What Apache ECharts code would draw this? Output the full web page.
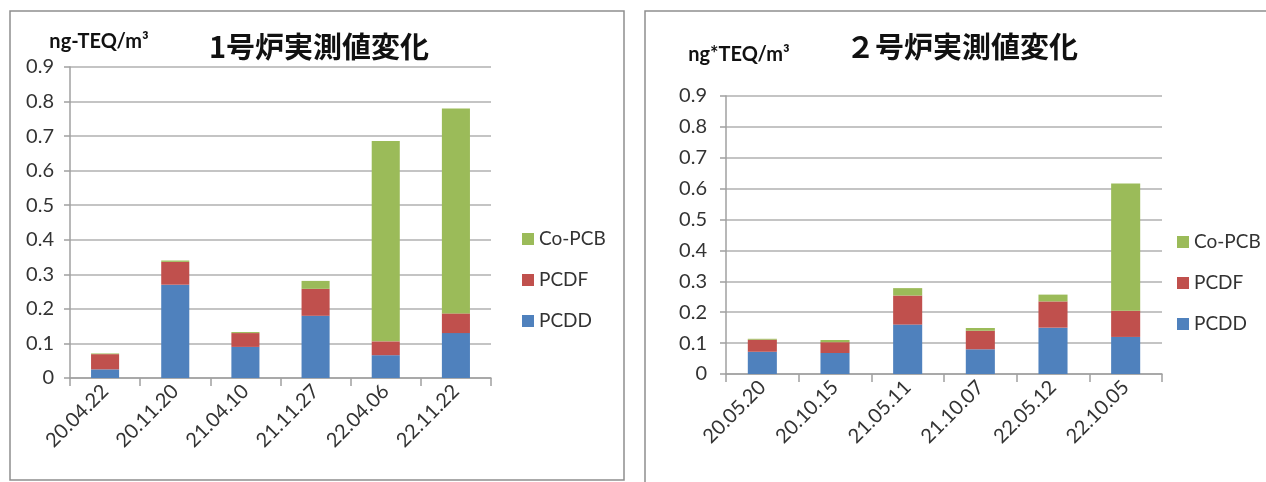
<!DOCTYPE html>
<html>
<head>
<meta charset="utf-8">
<script src="https://cdn.jsdelivr.net/npm/echarts@6/dist/echarts.min.js"></script>
<style>
  html, body { margin: 0; padding: 0; background: #fff; }
  #chart { width: 1266px; height: 482px; }
</style>
</head>
<body>
<div id="chart"></div>
<script>
// Furnace No.1 measurements (ng-TEQ/m3)
const dates1 = ['20.04.22', '20.11.20', '21.04.10', '21.11.27', '22.04.06', '22.11.22'];
const pcdd1  = [0.025, 0.27, 0.09, 0.18, 0.066, 0.13];
const pcdf1  = [0.044, 0.066, 0.04, 0.078, 0.04, 0.057];
const copcb1 = [0.002, 0.004, 0.003, 0.023, 0.58, 0.593];

// Furnace No.2 measurements (ng-TEQ/m3)
const dates2 = ['20.05.20', '20.10.15', '21.05.11', '21.10.07', '22.05.12', '22.10.05'];
const pcdd2  = [0.072, 0.068, 0.16, 0.08, 0.15, 0.12];
const pcdf2  = [0.039, 0.035, 0.094, 0.06, 0.085, 0.085];
const copcb2 = [0.003, 0.007, 0.024, 0.009, 0.022, 0.412];

const legendNames = ['Co-PCB', 'PCDF', 'PCDD'];
const titles = ['1号炉実測値変化', '２号炉実測値変化'];
const units = ['ng-TEQ/m³', 'ng*TEQ/m³'];

const COLORS = { PCDD: '#4F81BD', PCDF: '#C0504D', 'Co-PCB': '#9BBB59' };
const FONT = 'Lato, "Noto Sans", sans-serif';
const CJK = '"Noto Sans CJK JP", sans-serif';

const chart = echarts.init(document.getElementById('chart'), null, { renderer: 'canvas' });

function yAxis(gridIndex, margin) {
  return {
    type: 'value', gridIndex, min: 0, max: 0.9, interval: 0.1,
    axisLine: { show: true, lineStyle: { color: '#a0a0a0', width: 1.5 } },
    axisTick: { show: true, length: 6, lineStyle: { color: '#a0a0a0', width: 1.5 } },
    splitLine: { show: true, lineStyle: { color: '#b0b0b0', width: 1.5 } },
    axisLabel: {
      margin, color: '#333', fontFamily: FONT, fontSize: 20,
      formatter: v => (v === 0 ? '0' : v.toFixed(1))
    }
  };
}

function xAxis(gridIndex, data) {
  return {
    type: 'category', gridIndex, data,
    axisLine: { show: true, lineStyle: { color: '#a0a0a0', width: 1.5 } },
    axisTick: { show: true, length: 8, alignWithLabel: false, lineStyle: { color: '#a0a0a0', width: 1.5 } },
    axisLabel: { rotate: 45, margin: 10, color: '#333', fontFamily: FONT, fontSize: 20, interval: 0 }
  };
}

function bars(axisIndex, stack, pcdd, pcdf, copcb) {
  const base = { type: 'bar', stack, xAxisIndex: axisIndex, yAxisIndex: axisIndex, barWidth: '40%' };
  return [
    Object.assign({}, base, { name: 'PCDD', data: pcdd, itemStyle: { color: COLORS.PCDD } }),
    Object.assign({}, base, { name: 'PCDF', data: pcdf, itemStyle: { color: COLORS.PCDF } }),
    Object.assign({}, base, { name: 'Co-PCB', data: copcb, itemStyle: { color: COLORS['Co-PCB'] } })
  ];
}

function legend(left, top) {
  return {
    data: legendNames, orient: 'vertical', left, top,
    itemWidth: 12, itemHeight: 12, itemGap: 21, selectedMode: false,
    icon: 'rect',
    textStyle: { fontFamily: FONT, fontSize: 19, color: '#333', lineHeight: 20 }
  };
}

function label(text, x, y, font) {
  return {
    type: 'text', x, y, silent: true,
    style: { text, font, fill: '#111', textAlign: 'center', textVerticalAlign: 'middle' }
  };
}

chart.setOption({
  animation: false,
  backgroundColor: '#fff',
  grid: [
    { left: 70, top: 67, width: 421, height: 311, containLabel: false, outerBoundsMode: 'none' },
    { left: 726, top: 96, width: 436, height: 278, containLabel: false, outerBoundsMode: 'none' }
  ],
  xAxis: [xAxis(0, dates1), xAxis(1, dates2)],
  yAxis: [yAxis(0, 16), yAxis(1, 19)],
  legend: [legend(517, 224), legend(1172, 227)],
  series: [].concat(
    bars(0, 'f1', pcdd1, pcdf1, copcb1),
    bars(1, 'f2', pcdd2, pcdf2, copcb2)
  ),
  graphic: [
    { type: 'rect', silent: true, shape: { x: 10, y: 11, width: 614, height: 469 },
      style: { fill: 'none', stroke: '#8e8e8e', lineWidth: 1.5 } },
    { type: 'rect', silent: true, shape: { x: 645, y: 11, width: 640, height: 500 },
      style: { fill: 'none', stroke: '#8e8e8e', lineWidth: 1.5 } },
    label(units[0], 99, 42, 'bold 20px ' + FONT),
    label(units[1], 739, 55, 'bold 20px ' + FONT),
    label(titles[0], 319, 47, 'bold 29px ' + CJK),
    label(titles[1], 962, 47, 'bold 29px ' + CJK)
  ]
});
</script>
</body>
</html>
